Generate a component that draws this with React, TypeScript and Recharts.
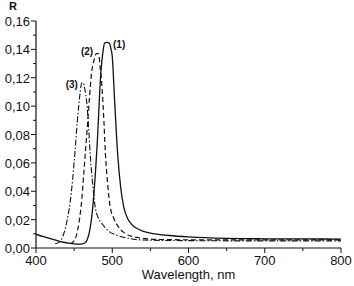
import React from 'react';
import { LineChart, Line, XAxis, YAxis, ReferenceDot, Customized } from 'recharts';

// wavelength (nm) / reflectance pairs
const curve1X = [400, 410, 420, 432, 445, 458, 464, 468, 471, 475, 480, 485, 488, 490, 493, 496, 498, 500, 503, 507, 511, 515, 520, 524, 535, 550, 575, 600, 650, 700, 750, 800];
const curve1R = [0.0097, 0.008, 0.0065, 0.0045, 0.0033, 0.0027, 0.0035, 0.007, 0.014, 0.032, 0.071, 0.123, 0.139, 0.1445, 0.145, 0.1445, 0.141, 0.135, 0.105, 0.067, 0.043, 0.029, 0.021, 0.0176, 0.013, 0.0105, 0.0088, 0.0078, 0.0068, 0.0065, 0.0064, 0.0063];

const curve2X = [445, 450, 454, 457, 460, 463, 467, 470, 473, 476, 479, 482, 484, 486.5, 489, 491, 494, 497, 502, 508, 515, 532, 560, 600, 700, 800];
const curve2R = [0.003, 0.005, 0.011, 0.02, 0.034, 0.055, 0.083, 0.105, 0.124, 0.132, 0.137, 0.137, 0.128, 0.114, 0.09, 0.067, 0.045, 0.03, 0.021, 0.015, 0.011, 0.0075, 0.006, 0.0058, 0.0057, 0.0057];

const curve3X = [425, 431.6, 435, 438, 441, 444.7, 448, 451, 454, 456, 458, 460, 462, 464, 466.7, 469, 471, 474, 477.6, 481, 486, 495, 506, 520, 541, 600, 700, 800];
const curve3R = [0.003, 0.0045, 0.008, 0.0127, 0.02, 0.032, 0.048, 0.067, 0.088, 0.1, 0.11, 0.1165, 0.1165, 0.112, 0.102, 0.085, 0.067, 0.047, 0.029, 0.022, 0.0176, 0.012, 0.009, 0.007, 0.0056, 0.0052, 0.005, 0.005];

const xMajor = [400, 500, 600, 700, 800];
const xMinor = [450, 550, 650, 750];
const yMajor = [0, 0.02, 0.04, 0.06, 0.08, 0.1, 0.12, 0.14, 0.16];
const yMinor = [0.01, 0.03, 0.05, 0.07, 0.09, 0.11, 0.13, 0.15];

const curveLabels = ['(1)', '(2)', '(3)'];
const labelX = [501, 475, 455];
const labelR = [0.141, 0.136, 0.1128];

const toPoints = (xs: number[], rs: number[]) => xs.map((x, i) => ({ x, r: rs[i] }));
const data1 = toPoints(curve1X, curve1R);
const data2 = toPoints(curve2X, curve2R);
const data3 = toPoints(curve3X, curve3R);

const xTicks = [...xMajor, ...xMinor].sort((a, b) => a - b);
const yTicks = [...yMajor, ...yMinor].sort((a, b) => a - b);

const FONT = '"Liberation Sans", Arial, sans-serif';
const INK = '#111';

const isMajorY = (v: number) => Math.round(v * 100) % 2 === 0;
const isMajorX = (v: number) => Math.round(v) % 100 === 0;

const LeftTick = ({ x, y, payload }: any) => {
    const major = isMajorY(payload.value);
    return (
        <g>
            <line x1={x - (major ? 5 : 3)} y1={y} x2={x} y2={y} stroke={INK} strokeWidth={1} />
            {major && (
                <text x={x - 6} y={y + 5} textAnchor="end" fontSize={13} fontFamily={FONT} fill={INK}>
                    {payload.value.toFixed(2).replace('.', ',')}
                </text>
            )}
        </g>
    );
};

const RightTick = ({ x, y, payload }: any) => {
    const major = isMajorY(payload.value);
    return <line x1={x - (major ? 5 : 3)} y1={y} x2={x} y2={y} stroke={INK} strokeWidth={1} />;
};

const BottomTick = ({ x, y, payload }: any) => {
    const major = isMajorX(payload.value);
    return (
        <g>
            <line x1={x} y1={y} x2={x} y2={y + (major ? 5 : 3)} stroke={INK} strokeWidth={1} />
            {major && (
                <text x={x} y={y + 17} textAnchor="middle" fontSize={13} fontFamily={FONT} fill={INK}>
                    {payload.value}
                </text>
            )}
        </g>
    );
};

const TopTick = ({ x, y, payload }: any) => {
    const major = isMajorX(payload.value);
    return <line x1={x} y1={y} x2={x} y2={y + (major ? 5 : 3)} stroke={INK} strokeWidth={1} />;
};

const CurveLabel = (text: string) => ({ cx, cy }: any) => (
    <text x={cx} y={cy} textAnchor={text === '(1)' ? 'start' : 'end'} fontSize={10} fontWeight="bold" fontFamily={FONT} fill={INK}>
        {text}
    </text>
);

export default function App() {
    return (
        <div style={{ position: 'absolute', left: 0, top: 0, width: 354, height: 286, background: '#fff' }}>
            <LineChart width={354} height={286} margin={{ top: 21, right: 13, bottom: 0, left: 0 }}>
                <XAxis
                    xAxisId="bottom"
                    type="number"
                    dataKey="x"
                    domain={[400, 800]}
                    ticks={xTicks}
                    interval={0}
                    height={38}
                    tickSize={0}
                    tickMargin={0}
                    tickLine={false}
                    tick={<BottomTick />}
                    axisLine={{ stroke: INK, strokeWidth: 1.2 }}
                    allowDataOverflow
                    label={{ value: 'Wavelength, nm', position: 'insideBottom', offset: 7, fontSize: 13, fontFamily: FONT, fill: INK }}
                />
                <XAxis
                    xAxisId="top"
                    orientation="top"
                    type="number"
                    dataKey="x"
                    domain={[400, 800]}
                    ticks={xTicks}
                    interval={0}
                    height={0}
                    tickSize={0}
                    tickMargin={0}
                    tickLine={false}
                    tick={<TopTick />}
                    axisLine={{ stroke: INK, strokeWidth: 1.2 }}
                    allowDataOverflow
                />
                <YAxis
                    yAxisId="left"
                    type="number"
                    domain={[0, 0.16]}
                    ticks={yTicks}
                    interval={0}
                    width={36}
                    tickSize={0}
                    tickMargin={0}
                    tickLine={false}
                    tick={<LeftTick />}
                    axisLine={{ stroke: INK, strokeWidth: 1.2 }}
                    allowDataOverflow
                />
                <YAxis
                    yAxisId="right"
                    orientation="right"
                    type="number"
                    domain={[0, 0.16]}
                    ticks={yTicks}
                    interval={0}
                    width={0}
                    tickSize={0}
                    tickMargin={0}
                    tickLine={false}
                    tick={<RightTick />}
                    axisLine={{ stroke: INK, strokeWidth: 1.2 }}
                    allowDataOverflow
                />
                <Line xAxisId="bottom" yAxisId="left" data={data1} dataKey="r" type="monotone" stroke={INK} strokeWidth={1.3} dot={false} isAnimationActive={false} />
                <Line xAxisId="bottom" yAxisId="left" data={data2} dataKey="r" type="monotone" stroke={INK} strokeWidth={1.2} strokeDasharray="5 3" dot={false} isAnimationActive={false} />
                <Line xAxisId="bottom" yAxisId="left" data={data3} dataKey="r" type="monotone" stroke={INK} strokeWidth={1.1} strokeDasharray="6 2 1.5 2" dot={false} isAnimationActive={false} />
                {curveLabels.map((t, i) => (
                    <ReferenceDot key={t} xAxisId="bottom" yAxisId="left" x={labelX[i]} y={labelR[i]} r={0} shape={CurveLabel(t)} />
                ))}
                <Customized component={() => (
                    <text x={13} y={10} textAnchor="middle" fontSize={11} fontWeight="bold" fontFamily={FONT} fill={INK}>R</text>
                )} />
            </LineChart>
        </div>
    );
}
